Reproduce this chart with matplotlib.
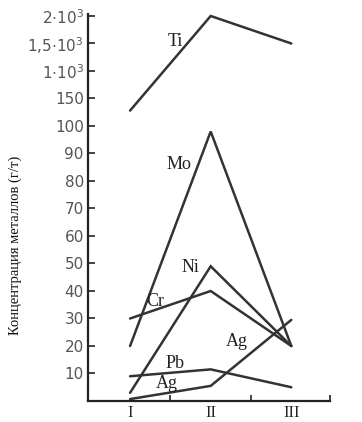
import numpy as np
import matplotlib
matplotlib.use("Agg")
import matplotlib.pyplot as plt

plt.rcParams["mathtext.fontset"] = "dejavusans"

# ---- data ----
categories = ["I", "II", "III"]
ti = [128, 2000, 1500]
mo = [20, 98, 20]
ni = [3, 49, 20]
cr = [30, 40, 20]
ag = [0.7, 5.5, 29.5]
pb = [9, 11.5, 5]
ytick_values = [10, 20, 30, 40, 50, 60, 70, 80, 90, 100, 150, 1000, 1500, 2000]
ytick_labels = ["10", "20", "30", "40", "50", "60", "70", "80", "90", "100", "150",
                r"$1{\cdot}10^{3}$", r"$1{,}5{\cdot}10^{3}$", r"$2{\cdot}10^{3}$"]
ylabel = "Концентрация металлов (г/т)"

# piecewise-linear broken axis scale
_vals = np.array([-1000, 0, 100, 150, 1000, 1500, 2000, 6000], dtype=float)
_pos = np.array([-100, 0, 10, 11, 12, 13, 14, 22], dtype=float)

def fwd(v):
    return np.interp(v, _vals, _pos)

def inv(p):
    return np.interp(p, _pos, _vals)

fig = plt.figure(figsize=(3.62, 4.22), dpi=100)
ax = fig.add_axes([88/362, 1-401/422, (330-88)/362, (401-14)/422])
ax.set_yscale("function", functions=(fwd, inv))

x = np.arange(1, len(categories) + 1)
lc = "#333333"
lw = 1.8
for series in (ti, mo, ni, cr, ag, pb):
    ax.plot(x, series, color=lc, lw=lw, solid_capstyle="round", solid_joinstyle="miter")

ax.set_xlim(0.478, 3.48)
ax.set_ylim(0, inv(14 + 2/27.6))

ax.set_yticks(ytick_values)
ax.set_yticklabels(ytick_labels)
ax.yaxis.set_minor_locator(matplotlib.ticker.NullLocator())
ax.tick_params(axis="y", direction="in", length=5, width=1.2, color="#222",
               labelsize=11, labelcolor="#555", pad=3)

ax.set_xticks(x)
ax.set_xticklabels(categories, family="Liberation Serif", fontsize=12, color="#222")
ax.set_xticks([1.5, 2.5, 3.48], minor=True)
ax.tick_params(axis="x", which="major", length=0, pad=3)
ax.tick_params(axis="x", which="minor", direction="in", length=4, width=1.2, color="#222")

for s in ("top", "right"):
    ax.spines[s].set_visible(False)
for s in ("left", "bottom"):
    ax.spines[s].set_linewidth(1.6)
    ax.spines[s].set_color("#222")

tkw = dict(family="Liberation Serif", fontsize=13, color="#222", ha="center", va="center")
ax.text(1.56, 1545, "Ti", **tkw)
ax.text(1.61, 86, "Mo", **tkw)
ax.text(1.75, 48.6, "Ni", **tkw)
ax.text(1.31, 36, "Cr", **tkw)
ax.text(2.33, 21.8, "Ag", **tkw)
ax.text(1.56, 13.8, "Pb", **tkw)
ax.text(1.46, 6.5, "Ag", **tkw)

fig.text(15/362, 1-245/422, ylabel, rotation=90, ha="center", va="center",
         family="Liberation Serif", fontsize=10.5, color="#111")

fig.savefig("out.png", dpi=100)
